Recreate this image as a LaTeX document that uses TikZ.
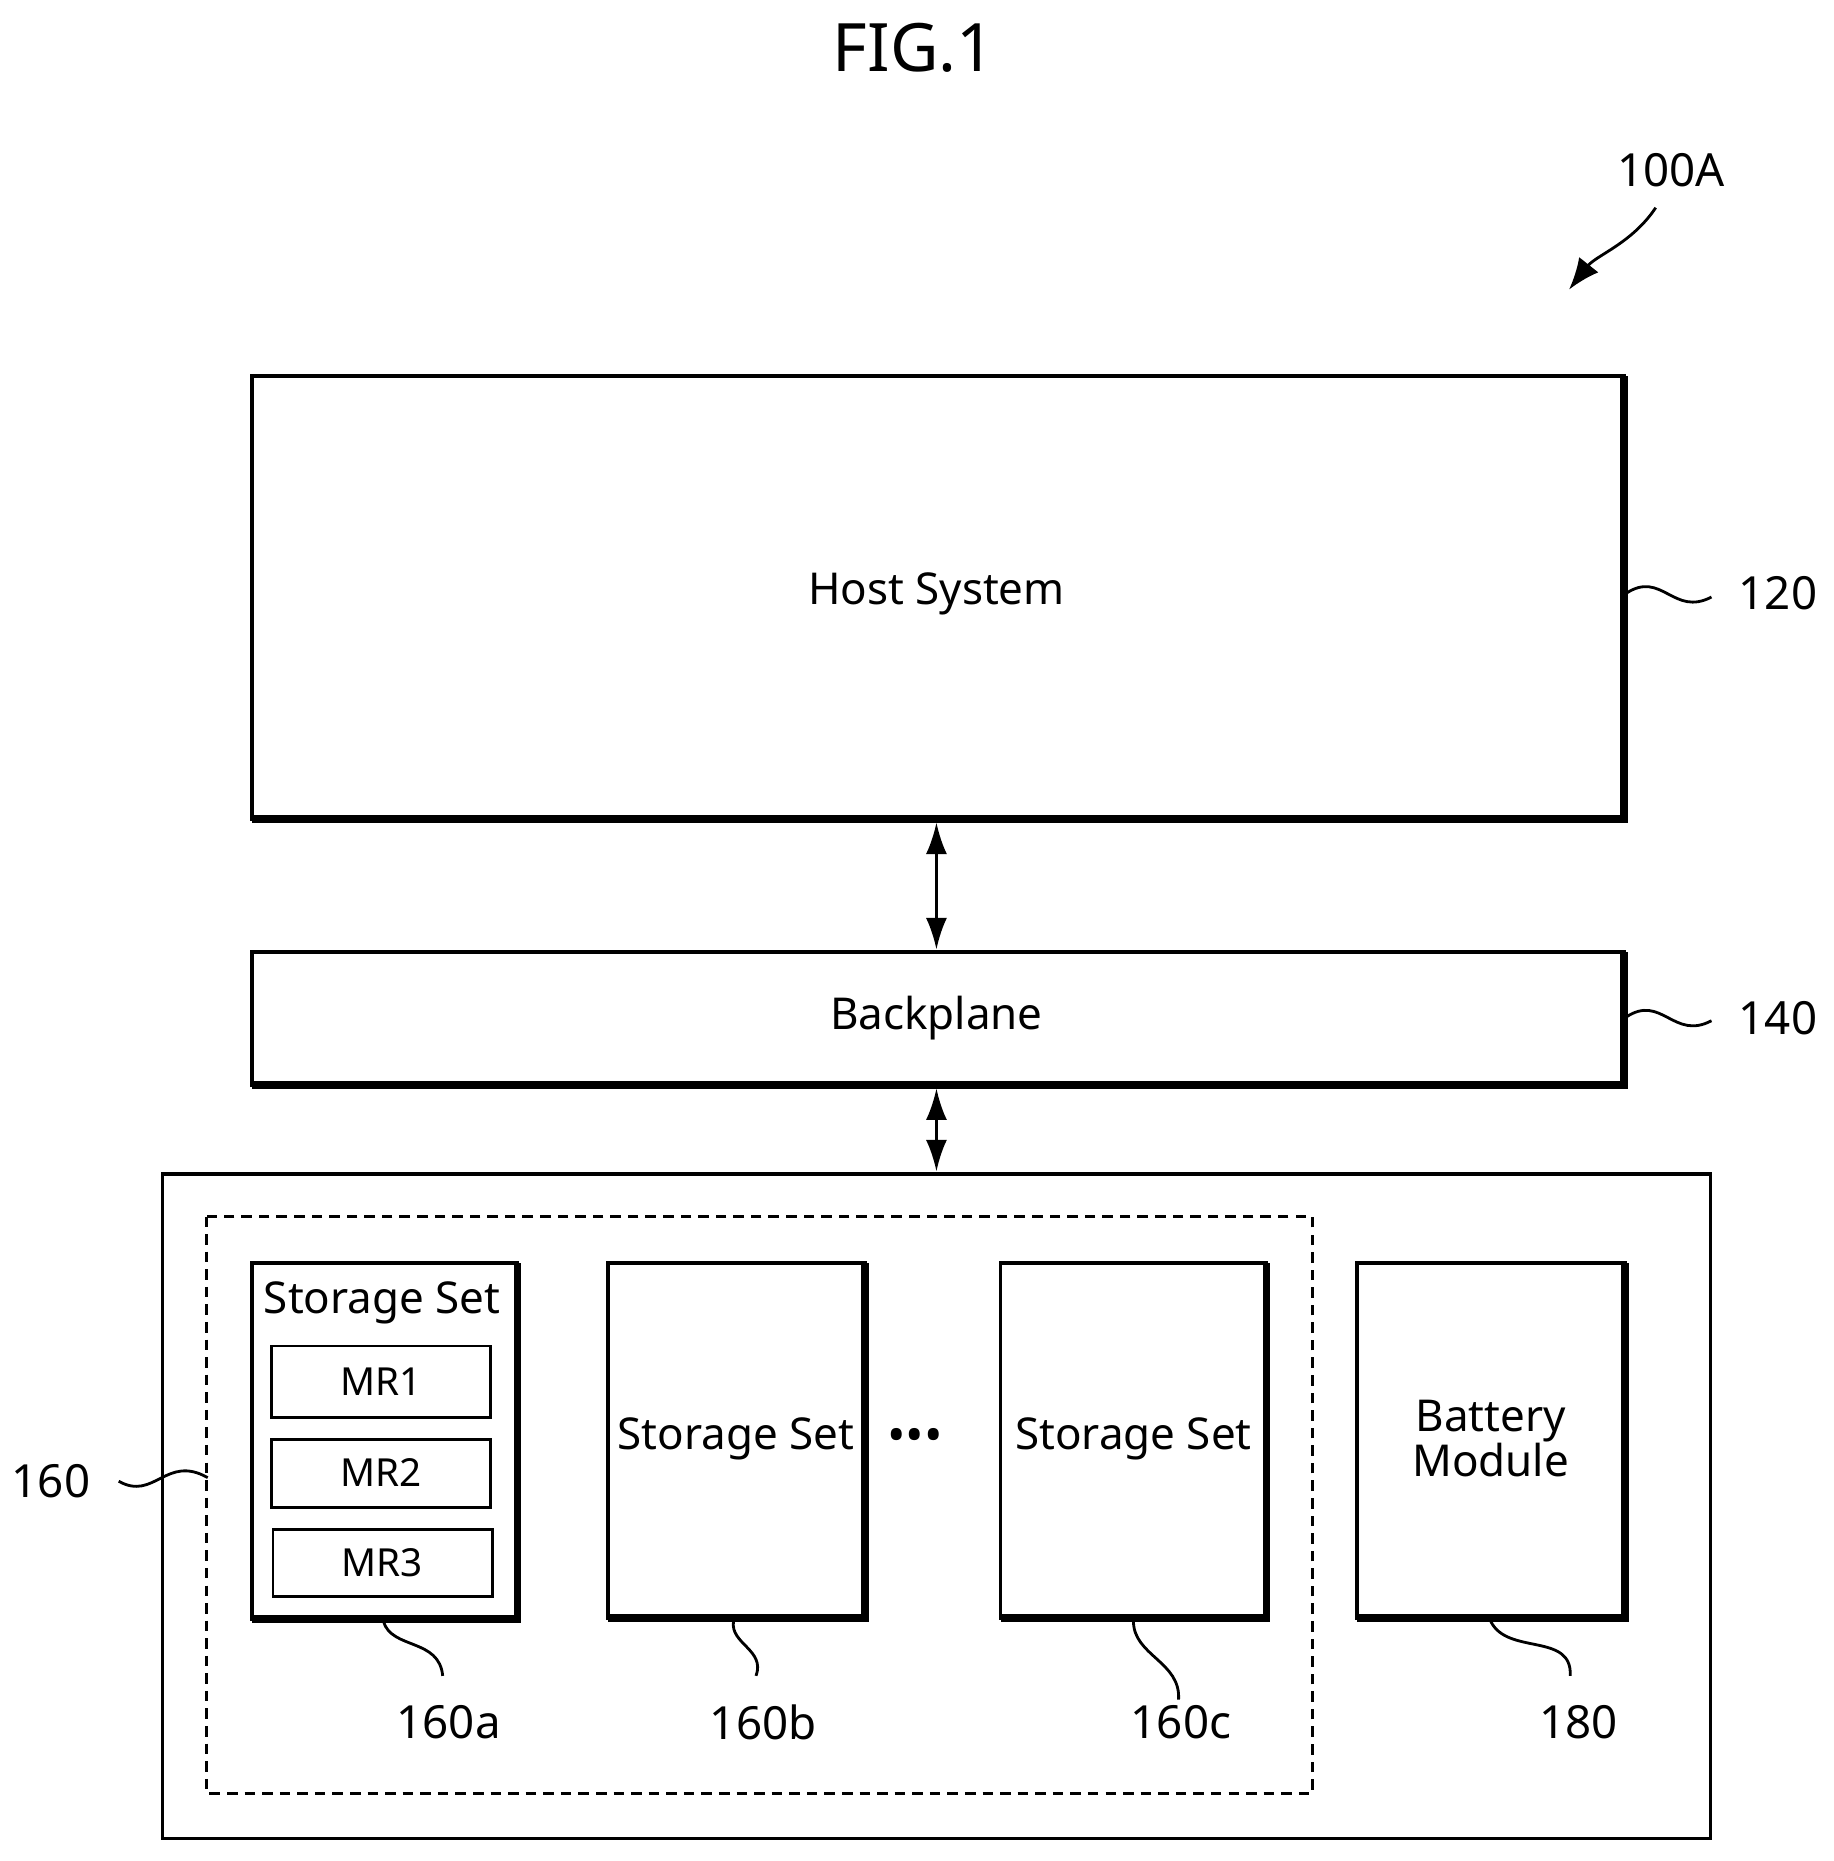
\documentclass[tikz,border=0pt]{standalone}
\usepackage{fontspec}
\setmainfont{Noto Sans}
\usetikzlibrary{arrows.meta}
\begin{document}
\begin{tikzpicture}[x=0.011866cm,y=-0.011866cm,
  box/.style={draw,line width=1.1pt,inner sep=0},
  shade/.style={line width=2.2pt},
  thin/.style={draw,line width=0.8pt},
  sq/.style={line width=0.8pt},
  lbl/.style={font=\fontsize{13}{16}\selectfont},
  txt/.style={font=\fontsize{12.5}{16}\selectfont,align=center},
  arr/.style={line width=0.8pt,<->,>={Latex[length=9pt,width=6pt]}}]
\useasboundingbox (0,0) rectangle (1545,1568);
\node[font=\fontsize{19}{24}\selectfont] (fig) at (770,40) {FIG.1};
\node[lbl] (l100) at (1408,143) {100A};
\coordinate (a1) at (1395,175); \coordinate (a2) at (1322,244);
\draw[sq,-{Latex[length=9pt,width=7pt]}] (a1) .. controls (1375,205) and (1345,215) .. (a2);
\draw[box] (212,317) rectangle (1368,690);
\draw[shade] (212,690) -- (1368,690) -- (1368,317);
\node[txt] (host) at (789,500) {Host System};
\coordinate (hb) at (789,693);
\draw[box] (212,802) rectangle (1368,914);
\draw[shade] (212,914) -- (1368,914) -- (1368,802);
\node[txt] (bp) at (789,858) {Backplane};
\coordinate (bt) at (789,800); \coordinate (bb) at (789,917); \coordinate (ot) at (789,987);
\draw[arr] (hb) -- (bt);
\draw[arr] (bb) -- (ot);
\node[lbl] (l120) at (1498,500) {120};
\node[lbl] (l140) at (1498,858) {140};
\draw[sq] (1370,500) .. controls (1400,480) and (1410,520) .. (1442,503);
\draw[sq] (1370,857) .. controls (1400,837) and (1410,877) .. (1442,860);
\draw[thin,line width=1pt] (137,989) rectangle (1441,1549);
\draw[thin,dashed,dash pattern=on 3pt off 2pt] (174,1025) rectangle (1106,1511);
\node[lbl] (l160) at (43,1248) {160};
\draw[sq] (100,1248) .. controls (130,1265) and (140,1225) .. (175,1245);
\draw[box] (212,1064) rectangle (436,1364);
\draw[shade] (212,1364) -- (436,1364) -- (436,1064);
\node[txt] (sa) at (322,1098) {Storage Set};
\draw[thin] (229,1134) rectangle (413,1194); \node[font=\fontsize{11}{13}\selectfont] (mr1) at (321,1164) {MR1};
\draw[thin] (229,1213) rectangle (413,1270); \node[font=\fontsize{11}{13}\selectfont] (mr2) at (321,1241) {MR2};
\draw[thin] (230,1289) rectangle (415,1345); \node[font=\fontsize{11}{13}\selectfont] (mr3) at (322,1317) {MR3};
\draw[box] (512,1064) rectangle (729,1363);
\draw[shade] (512,1363) -- (729,1363) -- (729,1064);
\node[txt] (sb) at (620,1212) {Storage Set};
\node[font=\fontsize{14}{16}\selectfont\bfseries] (dots) at (771,1214) {•••};
\draw[box] (843,1064) rectangle (1067,1363);
\draw[shade] (843,1363) -- (1067,1363) -- (1067,1064);
\node[txt] (sc) at (955,1212) {Storage Set};
\draw[box] (1143,1064) rectangle (1369,1363);
\draw[shade] (1143,1363) -- (1369,1363) -- (1369,1064);
\node[txt] (bm) at (1256,1212) {Battery\\[-3pt]Module};
\node[lbl] (la) at (378,1451) {160a};
\node[lbl] (lb) at (643,1451) {160b};
\node[lbl] (lc) at (995,1451) {160c};
\node[lbl] (l180) at (1330,1451) {180};
\draw[sq] (323,1366) .. controls (330,1390) and (370,1380) .. (373,1412);
\draw[sq] (618,1366) .. controls (615,1385) and (645,1390) .. (637,1412);
\draw[sq] (955,1366) .. controls (955,1395) and (995,1400) .. (993,1432);
\draw[sq] (1256,1366) .. controls (1270,1395) and (1325,1375) .. (1323,1412);
\end{tikzpicture}
\end{document}
